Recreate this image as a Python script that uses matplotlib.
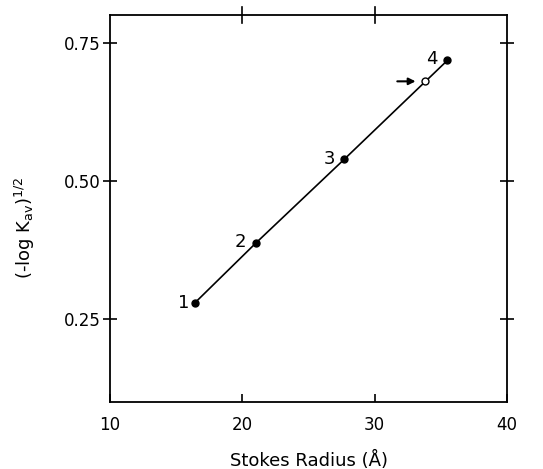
import matplotlib.pyplot as plt

# values
radius = [16.4, 21.0, 27.7, 35.5]
kav_term = [0.279, 0.387, 0.539, 0.718]
labels = ["1", "2", "3", "4"]
open_radius = [33.8]
open_kav = [0.680]

x_ticks = [10, 20, 30, 40]
y_ticks = [0.25, 0.50, 0.75]
y_ticklabels = ["0.25", "0.50", "0.75"]

plt.rcParams["font.family"] = ["DejaVu Sans"]

fig = plt.figure(figsize=(5.43, 4.69), dpi=100)
ax = fig.add_axes([110 / 543, 67 / 469, 397 / 543, 387 / 469])

ax.plot(radius, kav_term, color="black", lw=1.2, zorder=1)
ax.plot(radius, kav_term, "o", color="black", ms=5, zorder=3)
ax.plot(open_radius, open_kav, "o", mfc="white", mec="black", ms=5, mew=1, zorder=3)

label_offsets = [(-8, 0), (-11, 1), (-11, 0), (-11, 1)]
for x, y, lab, off in zip(radius, kav_term, labels, label_offsets):
    ax.annotate(lab, (x, y), xytext=off, textcoords="offset points",
                ha="center", va="center", fontsize=13)

ax.annotate("", xy=(open_radius[0] - 0.5, open_kav[0]),
            xytext=(open_radius[0] - 2.3, open_kav[0]),
            arrowprops=dict(arrowstyle="-|>", color="black", lw=1.5,
                            mutation_scale=10))

ax.set_xlim(10, 40)
ax.set_ylim(0.10, 0.80)
ax.set_xticks(x_ticks)
ax.set_yticks(y_ticks)
ax.set_yticklabels(y_ticklabels)

ax.tick_params(axis="x", direction="in", length=6, width=1.2, labelsize=12,
               top=False, pad=10)
ax.tick_params(axis="y", direction="inout", length=10, width=1.2, labelsize=12,
               right=True, pad=2)
for sp in ax.spines.values():
    sp.set_linewidth(1.3)

# top ticks cross the spine
for x in x_ticks[1:-1]:
    ax.plot([x, x], [0.785, 0.815], color="black", lw=1.2, clip_on=False)

ax.set_xlabel("Stokes Radius (Å)", fontsize=13, labelpad=12)
ax.set_ylabel(r"(-log K$_{\mathregular{av}}$)$^{\mathregular{1/2}}$", fontsize=13)
ax.yaxis.set_label_coords(-0.185, 0.45)

fig.savefig("out.png", dpi=100)
